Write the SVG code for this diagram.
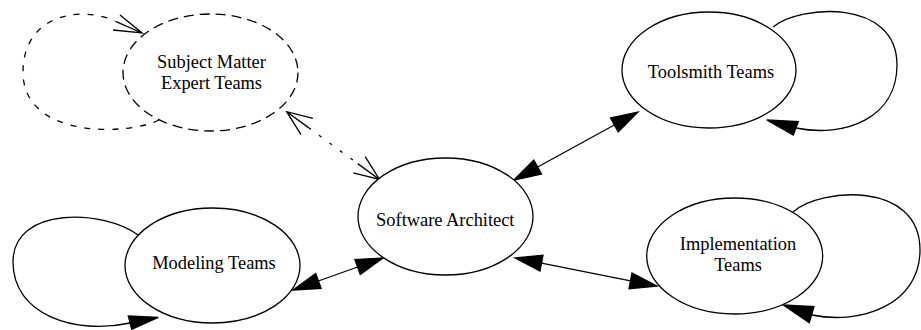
<svg xmlns="http://www.w3.org/2000/svg" width="921" height="330" viewBox="0 0 921 330">
<style>
.n{fill:#fff;stroke:#000;stroke-width:1.3}
.d{stroke-dasharray:10,6}
.t{font-family:"Liberation Serif","Times New Roman",serif;font-size:18.4px;fill:#000;text-anchor:middle}
.e{fill:none;stroke:#000;stroke-width:1.3}
.ed{stroke-dasharray:3,10}
.el{stroke-dasharray:6,8}
.a{fill:#000;stroke:#000;stroke-width:1.3}
.o{fill:none;stroke:#000;stroke-width:1.3}
</style>
<g id="edges">
<path class="e el" d="M159,120 C130,135 23,140 23,72 C23,15 80,5 115,21"/>
<path class="o" d="M120,15 L142,33 L113,30 M115.5,21.4 L142,33"/>
<path class="e ed" d="M308.5,127.6 L357.7,163.6"/>
<path class="o" d="M301,134.6 L286.7,111.7 L312.9,118.3 M308.5,127.6 L286.7,111.7"/>
<path class="o" d="M365.2,156.6 L379.5,179.5 L353.3,172.9 M357.7,163.6 L379.5,179.5"/>
<path class="e" d="M537.7,167 L614.3,125"/>
<polygon class="a" points="638,112 618.2,132 610.5,118"/>
<polygon class="a" points="514,180 541.5,174 533.8,160"/>
<path class="e" d="M318.4,281 L357.6,267"/>
<polygon class="a" points="293,290 321.1,288.5 315.7,273.5"/>
<polygon class="a" points="383,258 360.3,274.5 354.9,259.5"/>
<path class="e" d="M541.5,263.2 L630.5,280.8"/>
<polygon class="a" points="515,258 540,271 543,255.3"/>
<polygon class="a" points="657,286 629,288.7 632,273"/>
<path class="e" d="M138,235 C105,210 13,205 13,262 C13,315 75,335 130,323"/>
<polygon class="a" points="158.3,317.3 128.3,316 131.7,329.3"/>
<path class="e" d="M773,27 C800,5 897,-2 897,65 C897,118 845,138 796,128"/>
<polygon class="a" points="766.7,120 798.3,121.7 793.3,135"/>
<path class="e" d="M793,212 C820,188 920,180 920,250 C920,305 860,325 812,315"/>
<polygon class="a" points="783.3,305 814,306.7 809.3,322.7"/>
</g>
<g id="sme">
<ellipse class="n d" cx="210.5" cy="72.5" rx="87.5" ry="58.5" fill="none" style="fill:none"/>
<text class="t" x="211.5" y="68">Subject Matter</text>
<text class="t" x="211.5" y="89">Expert Teams</text>
</g>
<g id="toolsmith">
<ellipse class="n" cx="709" cy="70" rx="87" ry="58"/>
<text class="t" x="711" y="78">Toolsmith Teams</text>
</g>
<g id="architect">
<ellipse class="n" cx="445.5" cy="216.5" rx="87.5" ry="58.5"/>
<text class="t" x="445.3" y="226">Software Architect</text>
</g>
<g id="modeling">
<ellipse class="n" cx="212.5" cy="265.5" rx="87.5" ry="57.5"/>
<text class="t" x="214" y="269">Modeling Teams</text>
</g>
<g id="implementation">
<ellipse class="n" cx="734.7" cy="256" rx="88" ry="58"/>
<text class="t" x="738" y="250">Implementation</text>
<text class="t" x="738" y="271">Teams</text>
</g>
</svg>
